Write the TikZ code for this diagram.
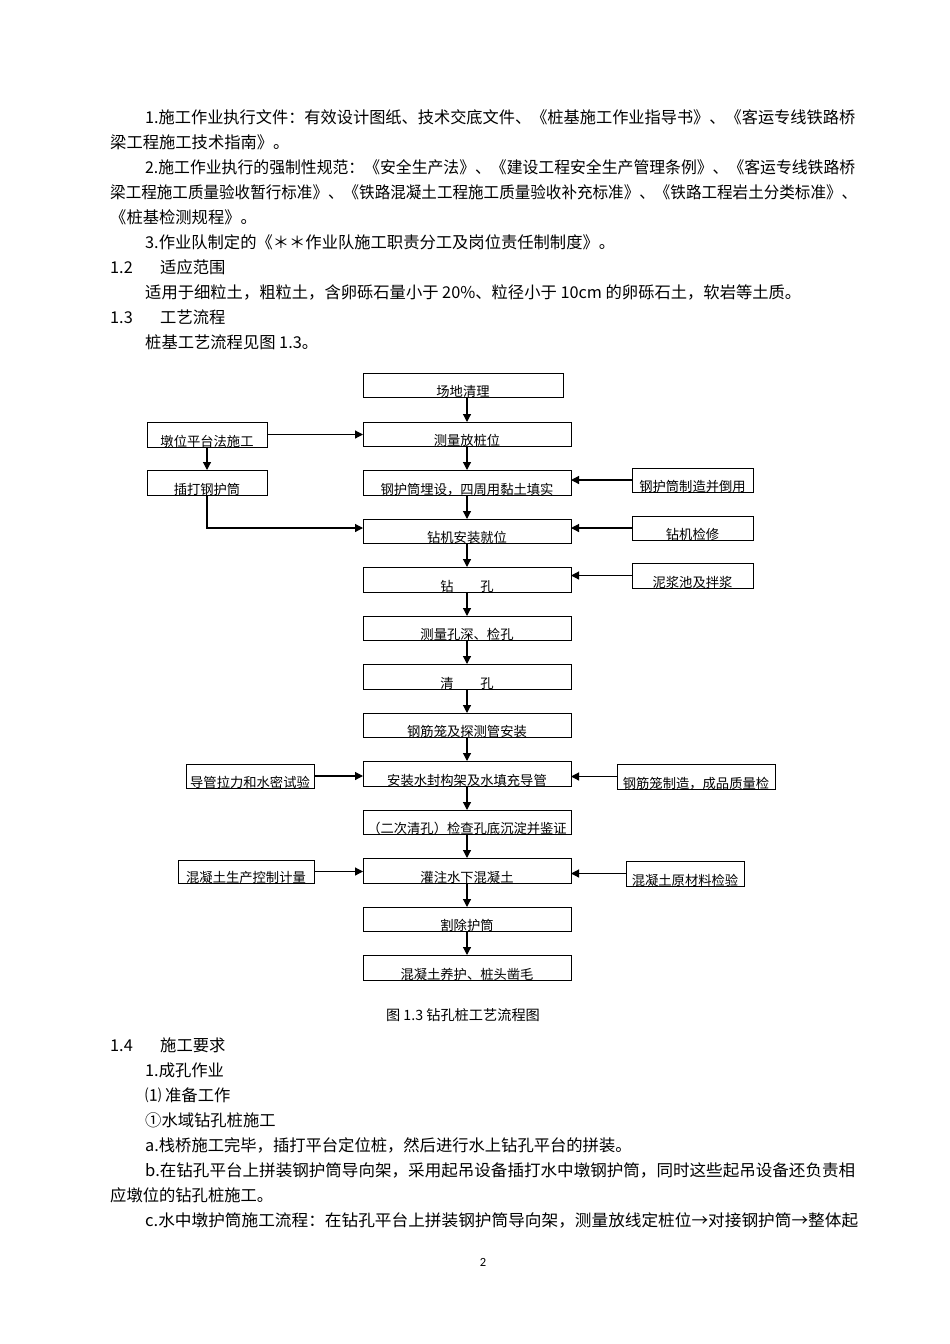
\documentclass[tikz,border=0pt]{standalone}
\usepackage{fontspec}
\usepackage{graphicx}
\usetikzlibrary{arrows.meta}
\newfontfamily\cjk{Noto Sans CJK SC}
\newfontfamily\pgnum{Carlito}
\newcommand\fitw[2]{\resizebox{#1pt}{\height}{#2}}
\newcommand\mybox[6]{%
  \node[boxst, minimum width={#4-#2}, minimum height={#5-#3}] (#1) at ({(#2+#4)/2},{(#3+#5)/2}) {};
  \node[lblst] (#1t) at ([yshift=0.5pt]#1.south) {#6};}
\begin{document}
\begin{tikzpicture}[x=1pt,y=-1pt,
  boxst/.style={draw, line width=0.9pt, inner sep=0pt, outer sep=0pt},
  lblst/.style={anchor=base, inner sep=0pt, font=\cjk\fontsize{13.3}{14}\selectfont},
  txt/.style={anchor=base west, inner sep=0pt, font=\cjk\fontsize{16.3}{16}\selectfont},
  arr/.style={line width=1.2pt, -{Triangle[length=8pt,width=8pt]}}]
\useasboundingbox[fill=white] (0,0) rectangle (950,1344);

% ---- upper text ----
\node[txt] (l1) at (145,123) {\fitw{710}{1.施工作业执行文件：有效设计图纸、技术交底文件、《桩基施工作业指导书》、《客运专线铁路桥}};
\node[txt] (l2) at (110,148) {梁工程施工技术指南》。};
\node[txt] (l3) at (145,173) {\fitw{710}{2.施工作业执行的强制性规范：《安全生产法》、《建设工程安全生产管理条例》、《客运专线铁路桥}};
\node[txt] (l4) at (110,198) {\fitw{747}{梁工程施工质量验收暂行标准》、《铁路混凝土工程施工质量验收补充标准》、《铁路工程岩土分类标准》、}};
\node[txt] (l5) at (110,223) {《桩基检测规程》。};
\node[txt] (l6) at (145,248) {3.作业队制定的《＊＊作业队施工职责分工及岗位责任制制度》。};
\node[txt] (l7a) at (110,273) {1.2};
\node[txt] (l7b) at (160,273) {适应范围};
\node[txt] (l8) at (145,298) {适用于细粒土，粗粒土，含卵砾石量小于 20\%、粒径小于 10cm 的卵砾石土，软岩等土质。};
\node[txt] (l9a) at (110,323) {1.3};
\node[txt] (l9b) at (160,323) {工艺流程};
\node[txt] (l10) at (145,348) {桩基工艺流程见图 1.3。};

% ---- flowchart boxes ----
\mybox{cdql}{363}{373}{563}{397}{场地清理}
\mybox{clfz}{363}{422}{571}{446}{测量放桩位}
\mybox{dwpt}{147}{422}{267}{447}{墩位平台法施工}
\mybox{cdhg}{147}{470}{267}{495}{插打钢护筒}
\mybox{ghtm}{363}{470}{571}{495}{钢护筒埋设，四周用黏土填实}
\mybox{ghtz}{632}{468}{753}{492}{钢护筒制造并倒用}
\mybox{zjaz}{363}{519}{571}{543}{钻机安装就位}
\mybox{zjjx}{632}{516}{753}{540}{钻机检修}
\mybox{zk}{363}{567}{571}{592}{钻\hspace{26.7pt}孔}
\mybox{njc}{632}{563}{753}{588}{泥浆池及拌浆}
\mybox{clks}{363}{616}{571}{640}{测量孔深、检孔}
\mybox{qk}{363}{664}{571}{689}{清\hspace{26.7pt}孔}
\mybox{gjl}{363}{713}{571}{737}{钢筋笼及探测管安装}
\mybox{azsf}{363}{761}{571}{786}{安装水封构架及水填充导管}
\mybox{dglx}{186}{764}{314}{788}{导管拉力和水密试验}
\mybox{gjlz}{617}{764}{775}{789}{钢筋笼制造，成品质量检}
\mybox{ecqk}{363}{810}{571}{834}{（二次清孔）检查孔底沉淀并鉴证}
\mybox{gzsx}{363}{858}{571}{883}{灌注水下混凝土}
\mybox{hscl}{178}{860}{314}{883}{混凝土生产控制计量}
\mybox{hycl}{626}{861}{744}{886}{混凝土原材料检验}
\mybox{gcht}{363}{907}{571}{931}{割除护筒}
\mybox{hyh}{363}{955}{571}{980}{混凝土养护、桩头凿毛}

% ---- connectors ----
\draw[arr] (clfz.north |- cdql.south) -- (clfz.north);
\foreach \a/\b in {clfz/ghtm, ghtm/zjaz, zjaz/zk, zk/clks, clks/qk, qk/gjl, gjl/azsf, azsf/ecqk, ecqk/gzsx, gzsx/gcht, gcht/hyh}
  \draw[arr] (\a.south) -- (\b.north);
\draw[arr] (dwpt.east) -- (dwpt.east -| clfz.west);
\draw[arr] (dwpt.south) -- (cdhg.north);
\draw[arr] (cdhg.south) |- ([yshift=3pt]zjaz.west);
\draw[arr] (ghtz.west) -- (ghtz.west -| ghtm.east);
\draw[arr] (zjjx.west) -- (zjjx.west -| zjaz.east);
\draw[arr] (njc.west) -- (njc.west -| zk.east);
\draw[arr] (dglx.east) -- (dglx.east -| azsf.west);
\draw[arr] (gjlz.west) -- (gjlz.west -| azsf.east);
\draw[arr] (hscl.east) -- (hscl.east -| gzsx.west);
\draw[arr] (hycl.west) -- (hycl.west -| gzsx.east);

% ---- caption ----
\node[anchor=base, inner sep=0pt, font=\cjk\fontsize{14.2}{15}\selectfont] (cap) at (463,1020) {图 1.3 钻孔桩工艺流程图};

% ---- lower text ----
\node[txt] (m1a) at (110,1051) {1.4};
\node[txt] (m1b) at (160,1051) {施工要求};
\node[txt] (m2) at (145,1076) {1.成孔作业};
\node[txt] (m3) at (145,1101) {⑴ 准备工作};
\node[txt] (m4) at (145,1126) {①水域钻孔桩施工};
\node[txt] (m5) at (145,1151) {a.栈桥施工完毕，插打平台定位桩，然后进行水上钻孔平台的拼装。};
\node[txt] (m6) at (145,1176) {\fitw{710}{b.在钻孔平台上拼装钢护筒导向架，采用起吊设备插打水中墩钢护筒，同时这些起吊设备还负责相}};
\node[txt] (m7) at (110,1201) {应墩位的钻孔桩施工。};
\node[txt] (m8) at (145,1226) {\fitw{713}{c.水中墩护筒施工流程：在钻孔平台上拼装钢护筒导向架，测量放线定桩位→对接钢护筒→整体起}};
\node[anchor=base, inner sep=0pt, font=\pgnum\fontsize{12.5}{13}\selectfont] (pg) at (483,1266) {2};
\end{tikzpicture}
\end{document}
